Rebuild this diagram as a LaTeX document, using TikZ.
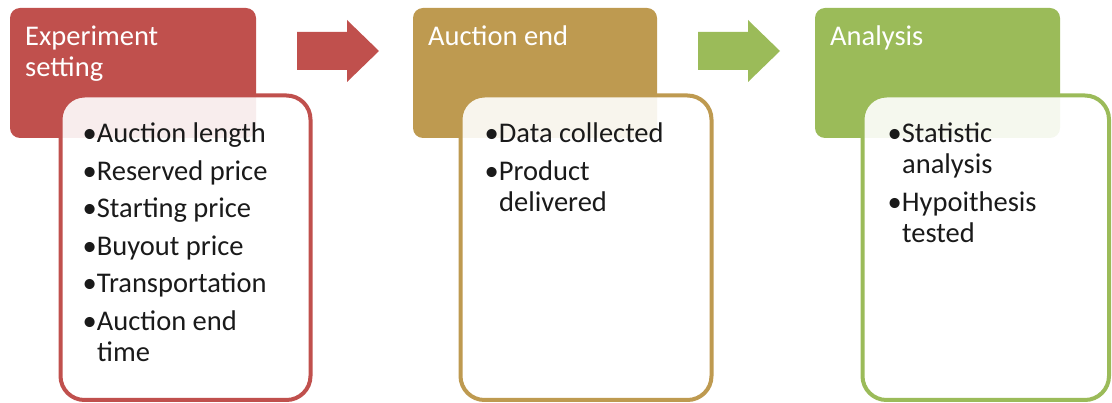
\documentclass[tikz,border=0pt]{standalone}
\usepackage{fontspec}
\setmainfont{Carlito}
\definecolor{cred}{HTML}{C0504D}
\definecolor{cgold}{HTML}{BE9A50}
\definecolor{cgreen}{HTML}{9BBB59}
\definecolor{ctext}{HTML}{1A1A1A}
\begin{document}
\begin{tikzpicture}[x=1pt,y=-1pt,
  header/.style={rounded corners=10pt},
  listbox/.style={rounded corners=24pt, line width=4pt, fill=white, fill opacity=0.9},
  htext/.style={anchor=base west, inner sep=0pt, text=white, font=\fontsize{28.5}{31}\selectfont},
  btext/.style={anchor=base west, inner sep=0pt, text=ctext, font=\fontsize{28.5}{31}\selectfont}]
\useasboundingbox (0,0) rectangle (1112,403);
% headers
\fill[cred,header] (10,8) rectangle (256,138);
\fill[cgold,header] (413,8) rectangle (657,138);
\fill[cgreen,header] (815,8) rectangle (1060,138);
% list boxes
\path[listbox,draw=cred] (60.5,95.5) rectangle (310.5,400);
\path[listbox,draw=cgold] (460.5,95.5) rectangle (711.5,400);
\path[listbox,draw=cgreen] (862.5,95.5) rectangle (1109,400);
% block arrows
\fill[cred] (297,32) -- (347,32) -- (347,20) -- (379,51) -- (347,82) -- (347,70) -- (297,70) -- cycle;
\fill[cgreen] (698,32) -- (748,32) -- (748,20) -- (780,51) -- (748,82) -- (748,70) -- (698,70) -- cycle;
% header texts
\node[htext] (h1a) at (25,46) {Experiment};
\node[htext] (h1b) at (25,77) {setting};
\node[htext] (h2) at (428,46) {Auction end};
\node[htext] (h3) at (830,46) {Analysis};
% list 1
\node[btext] (a1) at (82.5,143) {•Auction length};
\node[btext] (a2) at (82.5,180.5) {•Reserved price};
\node[btext] (a3) at (82.5,218) {•Starting price};
\node[btext] (a4) at (82.5,255.5) {•Buyout price};
\node[btext] (a5) at (82.5,293) {•Transportation};
\node[btext] (a6) at (82.5,331) {•Auction end};
\node[btext] (a6b) at (97,362) {time};
% list 2
\node[btext] (b1) at (484.5,143) {•Data collected};
\node[btext] (b2) at (484.5,181) {•Product};
\node[btext] (b2b) at (499,212) {delivered};
% list 3
\node[btext] (c1) at (887.5,143) {•Statistic};
\node[btext] (c1b) at (902,174) {analysis};
\node[btext] (c2) at (887.5,212) {•Hypoithesis};
\node[btext] (c2b) at (902,243) {tested};
\end{tikzpicture}
\end{document}
